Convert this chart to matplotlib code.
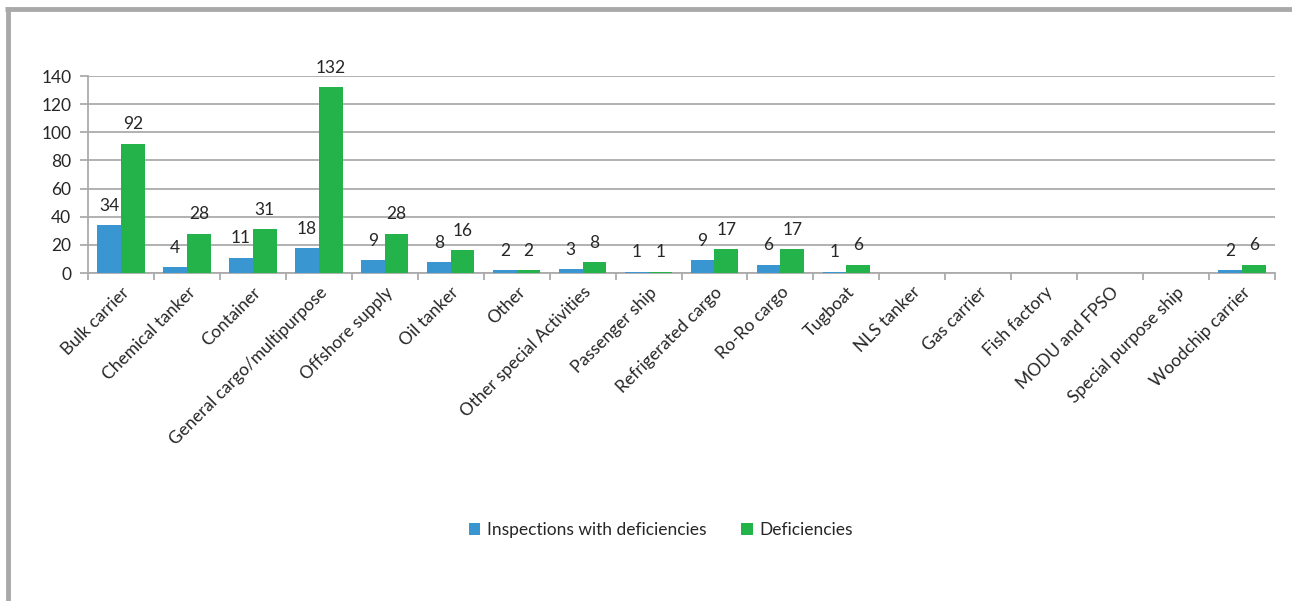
import matplotlib
matplotlib.use("Agg")
import matplotlib.pyplot as plt
import numpy as np
from matplotlib.lines import Line2D
from matplotlib.patches import Patch

plt.rcParams['font.family'] = ['Lato', 'DejaVu Sans']

categories = ["Bulk carrier", "Chemical tanker", "Container", "General cargo/multipurpose",
              "Offshore supply", "Oil tanker", "Other", "Other special Activities",
              "Passenger ship", "Refrigerated cargo", "Ro-Ro cargo", "Tugboat",
              "NLS tanker", "Gas carrier", "Fish factory", "MODU and FPSO",
              "Special purpose ship", "Woodchip carrier"]
inspections = [34, 4, 11, 18, 9, 8, 2, 3, 1, 9, 6, 1, 0, 0, 0, 0, 0, 2]
deficiencies = [92, 28, 31, 132, 28, 16, 2, 8, 1, 17, 17, 6, 0, 0, 0, 0, 0, 6]
series_names = ["Inspections with deficiencies", "Deficiencies"]
yticks = [0, 20, 40, 60, 80, 100, 120, 140]

blue = "#3A96D0"
green = "#24B24B"
grid_c = "#ABABAB"
text_c = "#262626"

W, H = 1292, 601
fig = plt.figure(figsize=(W / 100, H / 100), dpi=100)
ax = fig.add_axes([88 / W, 1 - 273 / H, (1275 - 88) / W, (273 - 76) / H])

x = np.arange(len(categories))
bw = 0.36
b1 = ax.bar(x - bw / 2, inspections, bw, color=blue, linewidth=0, zorder=3)
b2 = ax.bar(x + bw / 2, deficiencies, bw, color=green, linewidth=0, zorder=3)

for bars, vals in ((b1, inspections), (b2, deficiencies)):
    for r, v in zip(bars, vals):
        if v == 0:
            continue
        ax.annotate(str(v), (r.get_x() + r.get_width() / 2, r.get_height()),
                    xytext=(0, 8), textcoords="offset points", ha="center", va="bottom",
                    fontsize=12.5, color=text_c)

ax.set_xlim(-0.5, len(categories) - 0.5)
ax.set_ylim(0, 140)
ax.set_yticks(yticks)
ax.set_yticklabels([str(t) for t in yticks], fontsize=12.5, color=text_c)
ax.grid(axis="y", color=grid_c, linewidth=1.3, zorder=0)
ax.set_axisbelow(True)

ax.set_xticks(np.arange(-0.5, len(categories)), minor=False)
ax.set_xticklabels([], minor=False)
ax.set_xticks(x, minor=True)
ax.set_xticklabels(categories, minor=True, rotation=45, ha="right", rotation_mode="anchor",
                   fontsize=12.5, color=text_c)
ax.tick_params(axis="x", which="major", length=5, color=grid_c, width=1.3, direction="out")
ax.tick_params(axis="x", which="minor", length=0, pad=8)
ax.tick_params(axis="y", length=6, color=grid_c, width=1.3, pad=6)

for s in ("top", "right"):
    ax.spines[s].set_visible(False)
for s in ("left", "bottom"):
    ax.spines[s].set_color(grid_c)
    ax.spines[s].set_linewidth(1.3)

handles = [Patch(facecolor=blue), Patch(facecolor=green)]
fig.legend(handles, series_names, loc="center", bbox_to_anchor=(661 / W, 1 - 530 / H),
           ncol=2, frameon=False, fontsize=12.5, handlelength=0.65, handleheight=0.65,
           handletextpad=0.4, columnspacing=2.0, labelcolor=text_c)

# frame border (top and left)
fig.add_artist(Line2D([5 / W, 1], [1 - 9 / H, 1 - 9 / H], transform=fig.transFigure,
                      color="#A9A9AA", linewidth=3.5, solid_capstyle="butt"))
fig.add_artist(Line2D([8 / W, 8 / W], [0, 1 - 7 / H], transform=fig.transFigure,
                      color="#A9A9AA", linewidth=3.5, solid_capstyle="butt"))

fig.savefig("out.png", dpi=100)
